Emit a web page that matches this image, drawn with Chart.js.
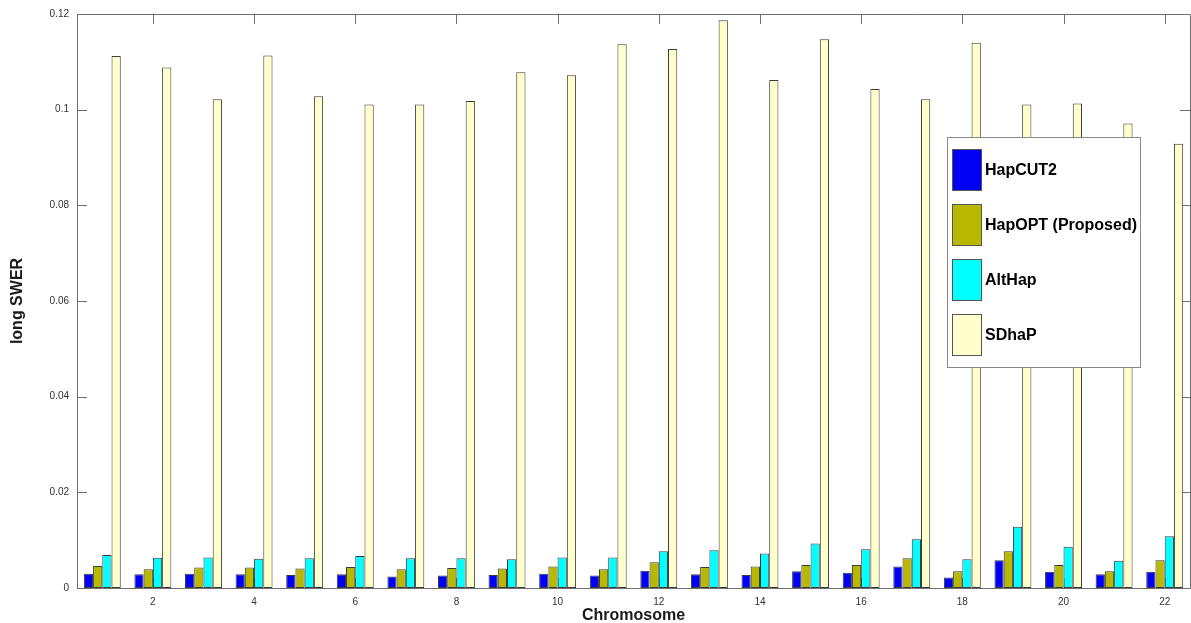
<!DOCTYPE html>
<html>
<head>
<meta charset="utf-8">
<script src="https://cdn.jsdelivr.net/npm/chart.js@4"></script>
<style>
  body { margin: 0; background: #fff; }
</style>
</head>
<body>
<canvas id="myChart" width="1191" height="623"></canvas>
<script>
let chromosomes = ['1','2','3','4','5','6','7','8','9','10','11','12','13','14','15','16','17','18','19','20','21','22']
let hapcut2 = [0.0030, 0.0029, 0.0030, 0.0029, 0.0027, 0.0029, 0.0024, 0.0026, 0.0027, 0.0030, 0.0026,
    0.0036, 0.0029, 0.0027, 0.0035, 0.0032, 0.0045, 0.0022, 0.0058, 0.0034, 0.0029, 0.0034]
let hapopt = [0.0046, 0.0039, 0.0043, 0.0043, 0.0041, 0.0044, 0.0039, 0.0042, 0.0041, 0.0045, 0.0039,
    0.0054, 0.0044, 0.0045, 0.0048, 0.0048, 0.0062, 0.0035, 0.0077, 0.0048, 0.0035, 0.0058]
let althap = [0.0069, 0.0063, 0.0064, 0.0061, 0.0062, 0.0067, 0.0062, 0.0062, 0.0060, 0.0064, 0.0064,
    0.0077, 0.0079, 0.0072, 0.0093, 0.0081, 0.0102, 0.0060, 0.0128, 0.0086, 0.0057, 0.0108]
let sdhap = [0.1112, 0.1088, 0.1022, 0.1113, 0.1028, 0.1011, 0.1011, 0.1018, 0.1078, 0.1072, 0.1137,
    0.1127, 0.1187, 0.1062, 0.1147, 0.1043, 0.1022, 0.1140, 0.1011, 0.1013, 0.0971, 0.0929]
let yTicks = [0, 0.02, 0.04, 0.06, 0.08, 0.1, 0.12]

const FONT = "'Liberation Sans', Arial, Helvetica, sans-serif"
const AXIS_COLOR = '#6e6e6e'
const EDGE = '#3a3a3a'

// box round the plot and inward tick marks, matlab style
const axesBox = {
    id: 'axesBox',
    beforeDatasetsDraw(chart) {
        const ctx = chart.ctx
        const a = chart.chartArea
        const xs = chart.scales.x
        const ys = chart.scales.y
        const len = 10
        ctx.save()
        ctx.strokeStyle = AXIS_COLOR
        ctx.lineWidth = 1
        ctx.beginPath()
        ctx.rect(Math.round(a.left) + 0.5, Math.round(a.top) + 0.5, Math.round(a.right - a.left), Math.round(a.bottom - a.top))
        ctx.stroke()
        ctx.beginPath()
        yTicks.forEach((v) => {
            let py = Math.round(ys.getPixelForValue(v)) + 0.5
            ctx.moveTo(a.left, py); ctx.lineTo(a.left + len, py)
            ctx.moveTo(a.right, py); ctx.lineTo(a.right - len, py)
        })
        chromosomes.forEach((c, i) => {
            if ((i + 1) % 2 != 0) return
            let px = Math.round(xs.getPixelForValue(i)) + 0.5
            ctx.moveTo(px, a.top); ctx.lineTo(px, a.top + len)
            ctx.moveTo(px, a.bottom); ctx.lineTo(px, a.bottom - len)
        })
        ctx.stroke()
        ctx.restore()
    }
}

// legend box drawn inside the plot area
const boxLegend = {
    id: 'boxLegend',
    afterDraw(chart) {
        const ctx = chart.ctx
        const a = chart.chartArea
        const left = a.right - 243
        const top = a.top + 123
        const w = 193
        const h = 230
        ctx.save()
        ctx.fillStyle = '#ffffff'
        ctx.fillRect(left, top, w, h)
        ctx.strokeStyle = '#8a8a8a'
        ctx.lineWidth = 1
        ctx.strokeRect(left + 0.5, top + 0.5, w, h)
        ctx.font = 'bold 16px ' + FONT
        ctx.textBaseline = 'middle'
        chart.data.datasets.forEach((ds, i) => {
            let sy = top + 12 + i * 55
            ctx.fillStyle = ds.backgroundColor
            ctx.fillRect(left + 5, sy, 30, 42)
            ctx.strokeStyle = '#555'
            ctx.strokeRect(left + 5.5, sy + 0.5, 29, 41)
            ctx.fillStyle = '#000'
            ctx.fillText(ds.label, left + 38, sy + 22)
        })
        ctx.restore()
    }
}

function series(label, data, color) {
    return {
        label: label,
        data: data,
        backgroundColor: color,
        borderColor: EDGE,
        borderWidth: 1,
        borderSkipped: false,
        categoryPercentage: 0.73,
        barPercentage: 1.0
    }
}

var ctx = document.getElementById('myChart');

var myChart = new Chart(ctx, {
    type: 'bar',
    data: {
        labels: chromosomes,
        datasets: [
            series('HapCUT2', hapcut2, '#0000f5'),
            series('HapOPT (Proposed)', hapopt, '#b8b800'),
            series('AltHap', althap, '#00ffff'),
            series('SDhaP', sdhap, '#ffffcc')
        ]
    },
    options: {
        responsive: false,
        animation: false,
        layout: { padding: { top: 14, right: 1, left: 0, bottom: 0 } },
        plugins: {
            legend: { display: false },
            tooltip: { enabled: false }
        },
        scales: {
            x: {
                grid: { display: false, drawTicks: false },
                border: { display: false },
                ticks: {
                    autoSkip: false,
                    maxRotation: 0,
                    padding: 8,
                    color: '#333',
                    font: { family: FONT, size: 10 },
                    callback: function (v, i) { return (i + 1) % 2 == 0 ? chromosomes[i] : '' }
                },
                title: {
                    display: true,
                    text: 'Chromosome',
                    color: '#1a1a1a',
                    font: { family: FONT, size: 16, weight: 'bold', lineHeight: 1 },
                    padding: { top: 0, bottom: -1 }
                },
                afterFit: function (scale) { scale.height = 35 }
            },
            y: {
                min: 0,
                max: 0.12,
                grid: { display: false, drawTicks: false },
                border: { display: false },
                ticks: {
                    stepSize: 0.02,
                    padding: 8,
                    color: '#333',
                    font: { family: FONT, size: 10 },
                    callback: function (v) { return String(Number(v.toFixed(2))) }
                },
                title: {
                    display: true,
                    text: 'long SWER',
                    color: '#1a1a1a',
                    font: { family: FONT, size: 16, weight: 'bold' },
                    padding: { top: 8, bottom: 0 }
                },
                afterFit: function (scale) { scale.width = 77 }
            }
        }
    },
    plugins: [axesBox, boxLegend]
});
</script>
</body>
</html>
